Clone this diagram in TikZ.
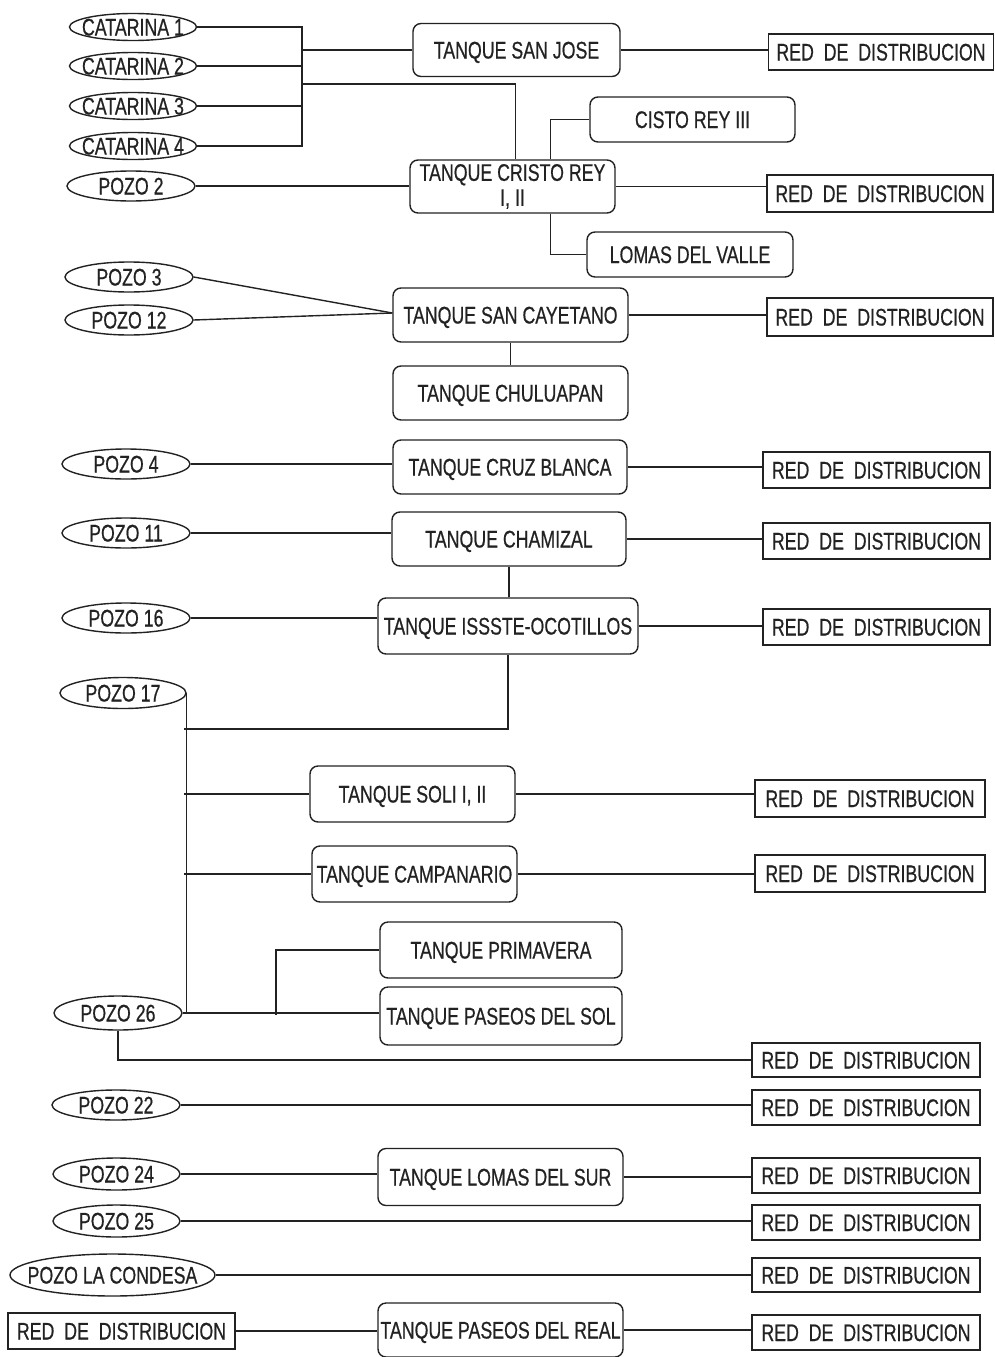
\documentclass[tikz,border=0pt]{standalone}
\usepackage{fontspec}
\setmainfont{Liberation Sans}[FakeStretch=0.74, FakeBold=0.6]
\usetikzlibrary{shapes.geometric}
\definecolor{ink}{HTML}{222222}

\tikzset{
  base/.style={draw=ink, line width=1.4pt, text=ink, inner sep=0pt,
    font=\fontsize{24}{26}\selectfont},
  capc/.style={text height=17pt, text depth=0pt},
  tank/.style={base, capc, rounded corners=8pt},
  tanktwo/.style={base, rounded corners=8pt, align=center},
  red/.style={base, capc, rectangle},
  well/.style={base, capc, ellipse, minimum width=128pt, minimum height=30pt},
  pipe/.style={draw=ink, line width=1.4pt},
  sz/.style 2 args={minimum width=#1pt, minimum height=#2pt},
}

\newcommand{\redtext}{RED\ \ DE\ \ DISTRIBUCION}
% well labels do not widen their ellipse
\newcommand{\wl}[1]{\makebox[0pt]{#1}}

\begin{document}
\begin{tikzpicture}[x=1pt, y=-1pt]
\useasboundingbox (0,0) rectangle (995,1357);

% --- Catarina wells, San Jose and Cristo Rey ---
\node[well, sz={127}{27}] (c1) at (133,27) {\wl{CATARINA 1}};
\node[well, sz={127}{27}] (c2) at (133,66) {\wl{CATARINA 2}};
\node[well, sz={127}{27}] (c3) at (133,106) {\wl{CATARINA 3}};
\node[well, sz={127}{27}] (c4) at (133,146) {\wl{CATARINA 4}};
\node[well] (p2) at (131,186) {\wl{POZO 2}};

\node[tank, sz={207}{53}] (sj) at (516.5,50) {TANQUE SAN JOSE};
\node[red, sz={225}{36}] (r1) at (881,52) {\redtext};

\node[tanktwo, sz={205}{53}] (cr) at (512.5,186.5) {TANQUE CRISTO REY\\[-1pt]I, II};
\node[tank, sz={205}{45}] (cis) at (692.5,119.5) {CISTO REY III};
\node[tank, sz={206}{45}] (lv) at (690,254.5) {LOMAS DEL VALLE};
\node[red, sz={226}{37}] (r2) at (880,193.5) {\redtext};

\coordinate (bus) at (302,50);
\coordinate (j2) at (302,84);
\draw[pipe] (c1.east) -| (bus |- c4.east) -- (c4.east);
\draw[pipe] (c2.east) -- (c2.east -| bus);
\draw[pipe] (c3.east) -- (c3.east -| bus);
\draw[pipe] (bus) -- (bus -| sj.west);
\draw[pipe] (j2) -| ([xshift=3pt]cr.north);
\draw[pipe] (sj.east) -- (sj.east -| r1.west);
\draw[pipe] (p2.east) -- (p2.east -| cr.west);
\draw[pipe] ([xshift=38pt]cr.north) |- (cis.west);
\draw[pipe] ([xshift=38pt]cr.south) |- (lv.west);
\draw[pipe] (cr.east) -- (cr.east -| r2.west);

% --- San Cayetano and Chuluapan ---
\node[well] (p3) at (129,277) {\wl{POZO 3}};
\node[well] (p12) at (129,320) {\wl{POZO 12}};
\node[tank, sz={235}{54}] (sc) at (510.5,315) {TANQUE SAN CAYETANO};
\node[tank, sz={235}{54}] (ch) at (510.5,393) {TANQUE CHULUAPAN};
\node[red, sz={226}{38}] (r3) at (880,317) {\redtext};
\draw[pipe] (p3.east) -- ([yshift=2pt]sc.west);
\draw[pipe] (p12.east) -- ([yshift=2pt]sc.west);
\draw[pipe] (sc.east) -- (sc.east -| r3.west);
\draw[pipe] (sc.south) -- (ch.north);

% --- Cruz Blanca, Chamizal, ISSSTE ---
\node[well] (p4) at (126,464) {\wl{POZO 4}};
\node[tank, sz={234}{54}] (cb) at (510,467) {TANQUE CRUZ BLANCA};
\node[red, sz={227}{36}] (r4) at (876.5,470) {\redtext};
\draw[pipe] (p4.east) -- (p4.east -| cb.west);
\draw[pipe] (cb.east) -- (cb.east -| r4.west);

\node[well] (p11) at (126,533) {\wl{POZO 11}};
\node[tank, sz={234}{54}] (cz) at (509,539) {TANQUE CHAMIZAL};
\node[red, sz={227}{36}] (r5) at (876.5,541) {\redtext};
\draw[pipe] (p11.east) -- (p11.east -| cz.west);
\draw[pipe] (cz.east) -- (cz.east -| r5.west);

\node[well] (p16) at (126,618) {\wl{POZO 16}};
\node[tank, sz={260}{56}] (is) at (508,626) {TANQUE ISSSTE-OCOTILLOS};
\node[red, sz={227}{36}] (r6) at (876.5,627) {\redtext};
\draw[pipe] (p16.east) -- (p16.east -| is.west);
\draw[pipe] (is.east) -- (is.east -| r6.west);
\draw[pipe] (cz.south) -- (cz.south |- is.north);

% --- Pozo 17 / Pozo 26 trunk ---
\node[well, sz={126}{31}] (p17) at (123,693) {\wl{POZO 17}};
\node[well, sz={128}{34}] (p26) at (118,1013) {\wl{POZO 26}};
\coordinate (t1) at (184,729);
\draw[pipe] (p17.east) -- (p17.east |- p26.east) -- (p26.east);
\draw[pipe] (is.south) |- (t1);

\node[tank, sz={205}{56}] (soli) at (412.5,794) {TANQUE SOLI I, II};
\node[red, sz={230}{37}] (r7) at (870,798.5) {\redtext};
\draw[pipe] (t1 |- soli.west) -- (soli.west);
\draw[pipe] (soli.east) -- (soli.east -| r7.west);

\node[tank, sz={205}{56}] (camp) at (414.5,874) {TANQUE CAMPANARIO};
\node[red, sz={230}{37}] (r8) at (870,873.5) {\redtext};
\draw[pipe] (t1 |- camp.west) -- (camp.west);
\draw[pipe] (camp.east) -- (camp.east -| r8.west);

\node[tank, sz={242}{56}] (pr) at (501,950) {TANQUE PRIMAVERA};
\node[tank, sz={242}{58}] (ps) at (501,1016) {TANQUE PASEOS DEL SOL};
\coordinate (k) at (276,1015);
\draw[pipe] (p26.east) -- (p26.east -| ps.west);
\draw[pipe] (k) |- (pr.west);

\node[red, sz={228}{34}] (r9) at (866,1060) {\redtext};
\draw[pipe] (p26.south) |- (r9.west);

% --- Southern wells ---
\node[well] (p22) at (116,1105) {\wl{POZO 22}};
\node[red, sz={228}{35}] (r10) at (866,1107.5) {\redtext};
\draw[pipe] (p22.east) -- (p22.east -| r10.west);

\node[well, sz={127}{32}] (p24) at (116.5,1174) {\wl{POZO 24}};
\node[tank, sz={245}{57}] (lsur) at (500.5,1177) {TANQUE LOMAS DEL SUR};
\node[red, sz={228}{35}] (r11) at (866,1175.5) {\redtext};
\draw[pipe] (p24.east) -- (p24.east -| lsur.west);
\draw[pipe] (lsur.east) -- (lsur.east -| r11.west);

\node[well, sz={127}{32}] (p25) at (116.5,1221) {\wl{POZO 25}};
\node[red, sz={228}{35}] (r12) at (866,1222.5) {\redtext};
\draw[pipe] (p25.east) -- (p25.east -| r12.west);

\node[well, sz={205}{42}] (pc) at (112.5,1275) {\wl{POZO LA CONDESA}};
\node[red, sz={228}{34}] (r13) at (866,1275) {\redtext};
\draw[pipe] (pc.east) -- (pc.east -| r13.west);

\node[red, sz={227}{36}] (rl) at (121.5,1331) {\redtext};
\node[tank, sz={245}{54}] (preal) at (500.5,1330) {TANQUE PASEOS DEL REAL};
\node[red, sz={228}{35}] (r14) at (866,1332.5) {\redtext};
\draw[pipe] (rl.east) -- (rl.east -| preal.west);
\draw[pipe] (preal.east) -- (preal.east -| r14.west);
\end{tikzpicture}
\end{document}
